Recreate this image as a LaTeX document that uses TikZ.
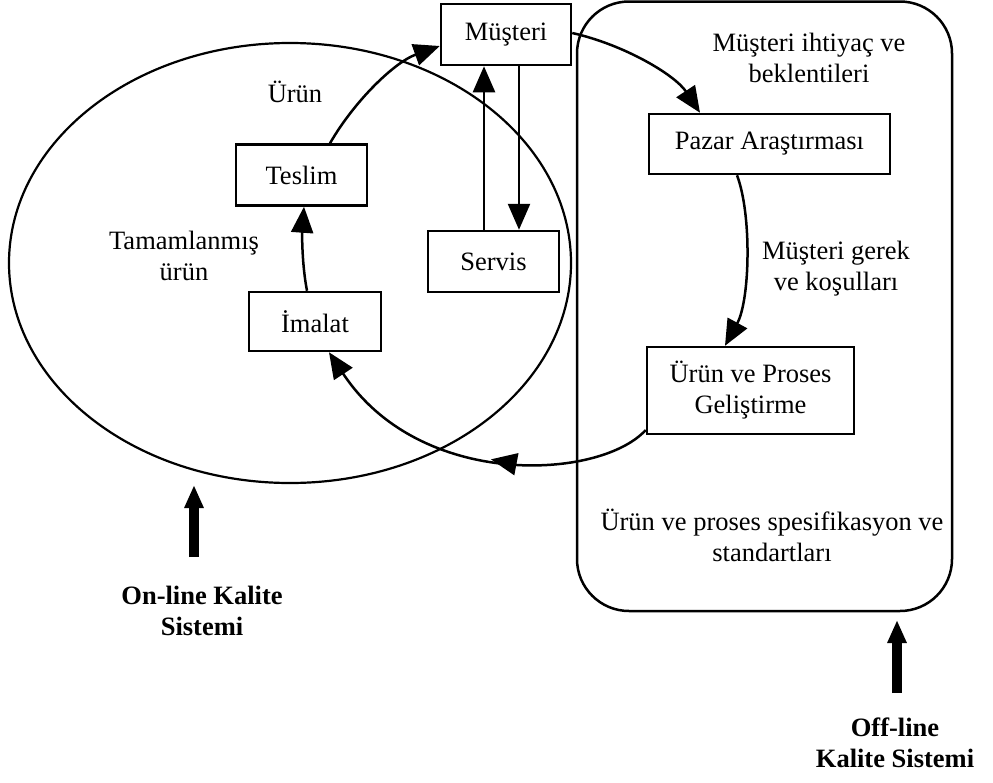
\documentclass[tikz,border=0pt]{standalone}
\usepackage{fontspec}
\setmainfont{Liberation Serif}
\usetikzlibrary{arrows.meta,decorations.markings}
\begin{document}
\begin{tikzpicture}[x=1pt,y=-1pt,
  txt/.style={font=\fontsize{26.5}{31}\selectfont, align=center, inner sep=0pt},
  boldtxt/.style={font=\fontsize{26.5}{31}\selectfont\bfseries, align=center, inner sep=0pt},
  box/.style={draw, line width=2.5pt, inner sep=0pt, align=center, font=\fontsize{26.5}{31}\selectfont},
  conn/.style={line width=2.5pt, -{Triangle[length=26pt,width=22pt]}},
  bigarr/.style={line width=9.5pt, -{Triangle[length=23pt,width=18pt]}},
  midarrow/.style={postaction={decorate}, decoration={markings, mark=at position #1 with {\arrow{Triangle[length=26pt,width=22pt]}}}}
]
\useasboundingbox (0,0) rectangle (993,782);

% containers
\draw[line width=2.2pt] (290,263) ellipse [x radius=281, y radius=220];
\draw[line width=2.5pt, rounded corners=52pt] (577,1.5) rectangle (952,611);

% boxes
\node[box, minimum width=130pt, minimum height=61pt] (mus) at (506,34.5) {Müşteri};
\node[box, minimum width=241pt, minimum height=60pt] (pazar) at (769.5,144) {Pazar Araştırması};
\node[box, minimum width=207pt, minimum height=87pt] (urun) at (750.5,390.5) {Ürün ve Proses\\Geliştirme};
\node[box, minimum width=131pt, minimum height=61pt] (teslim) at (301.5,175) {Teslim};
\node[box, minimum width=132pt, minimum height=59pt] (imalat) at (315,321.5) {İmalat};
\node[box, minimum width=131pt, minimum height=61pt] (servis) at (493.5,261.5) {Servis};

% connectors
\draw[conn] ([xshift=28.5pt]teslim.north) .. controls (355,100) and (395,62) .. ([yshift=-11.5pt]mus.west);
\draw[conn] ([xshift=-9.5pt]servis.north) -- ([xshift=-9.5pt]servis.north |- mus.south);
\draw[conn] ([xshift=25.5pt]servis.north |- mus.south) -- ([xshift=25.5pt]servis.north);
\draw[conn] ([yshift=1.5pt]mus.east) .. controls (625,45) and (675,75) .. ([xshift=-69.5pt]pazar.north);
\draw[conn] ([xshift=-32.5pt]pazar.south) .. controls (752,215) and (750,300) .. ([xshift=-25.5pt]urun.north);
\draw[conn] ([xshift=-8pt]imalat.north) .. controls (302,265) and (302,235) .. ([xshift=2.5pt]teslim.south);
\draw[conn, midarrow=0.45] ([yshift=-39.5pt]urun.west) .. controls (600,480) and (420,490) .. ([xshift=14pt]imalat.south);

% labels
\node[txt] (t1) at (809,58) {Müşteri ihtiyaç ve\\beklentileri};
\node[txt] (t2) at (295,92) {Ürün};
\node[txt] (t3) at (184,256) {Tamamlanmış\\ürün};
\node[txt] (t4) at (836,269) {Müşteri gerek\\ve koşulları};
\node[txt] (t5) at (772,535) {Ürün ve proses spesifikasyon ve\\standartları};

% quality system arrows
\coordinate (onbot) at (194,557);
\coordinate (ontop) at (194,485);
\draw[bigarr] (onbot) -- (ontop);
\coordinate (offbot) at (897,693);
\coordinate (offtop) at (897,620);
\draw[bigarr] (offbot) -- (offtop);
\node[boldtxt] (t6) at (202,611) {On-line Kalite\\Sistemi};
\node[boldtxt] (t7) at (895,743) {Off-line\\Kalite Sistemi};
\end{tikzpicture}
\end{document}
